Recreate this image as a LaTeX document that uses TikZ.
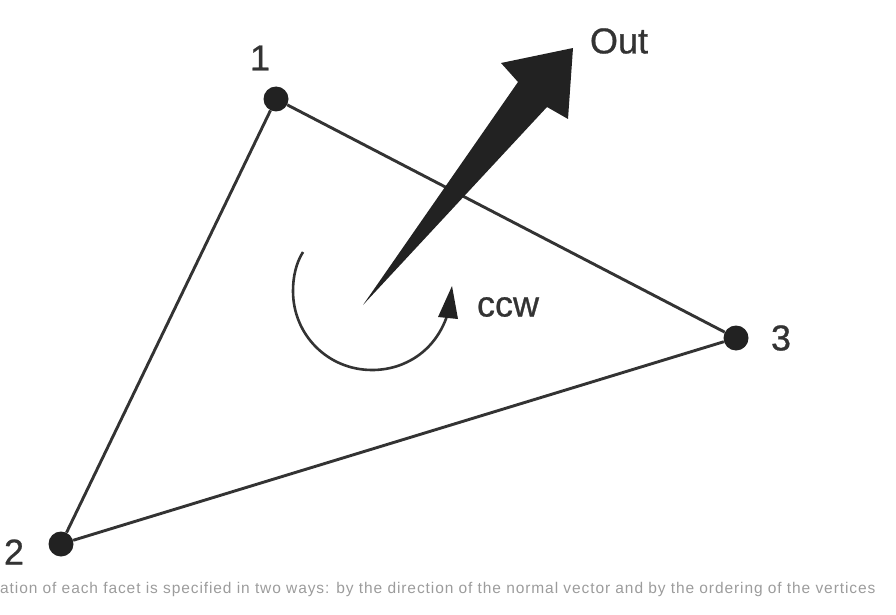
\documentclass[tikz,border=0pt]{standalone}
\usepackage{fontspec}
\setmainfont{Liberation Sans}
\newfontfamily\capfont[LetterSpace=5.9]{Liberation Sans}
\newfontfamily\labfont[FakeBold=0.7]{Liberation Sans}
\definecolor{ink}{HTML}{333333}
\definecolor{solid}{HTML}{222222}
\definecolor{capgray}{HTML}{9C9C9C}
\tikzset{
  vertexdot/.style={circle,fill=solid,draw=none,minimum size=25pt,inner sep=0pt},
  edge/.style={draw=ink,line width=2.9pt},
  biglabel/.style={text=ink,font=\labfont\fontsize{36}{36}\selectfont,inner sep=0pt},
  solidshape/.style={fill=solid,draw=none},
  turn/.style={draw=ink,line width=2.6pt}
}
\begin{document}
\begin{tikzpicture}[x=1pt,y=-1pt]
\useasboundingbox (0,0) rectangle (896,615);
\node[vertexdot] (v1) at (276,99) {};
\node[vertexdot] (v2) at (61,544) {};
\node[vertexdot] (v3) at (736,338) {};
\draw[edge] (v1) -- (v2);
\draw[edge] (v2) -- (v3);
\draw[edge] (v3) -- (v1);
\node[biglabel] (l1) at (260,58) {1};
\node[biglabel] (l2) at (14,552) {2};
\node[biglabel] (l3) at (781,338) {3};
\node[biglabel] (lout) at (619,41) {Out};
\node[biglabel] (lccw) at (508,307) {ccw};
\fill[solidshape] (363,305) -- (518,82) -- (501,63) -- (573,48) -- (568,119) -- (547,107) -- cycle;
\draw[turn] (303,252) .. controls (296,263) and (293,277) .. (293,291)
  .. controls (293,335) and (328,370) .. (372,370)
  .. controls (405,370) and (435,351) .. (447,316);
\fill[solidshape] (452,286) -- (438,317) -- (458,319) -- cycle;
\node[anchor=base west,inner sep=0pt,text=capgray,font=\capfont\fontsize{15.5}{15.5}\selectfont] (cap) at (0,593) {ation of each facet is specified in two ways: by the direction of the normal vector and by the ordering of the vertices};
\end{tikzpicture}
\end{document}
